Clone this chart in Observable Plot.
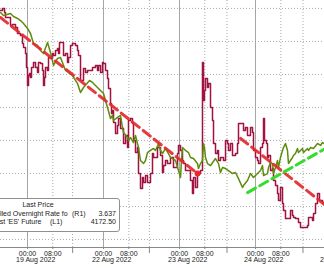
<!DOCTYPE html>
<html>
<head>
<meta charset="utf-8">
<script src="https://cdn.jsdelivr.net/npm/d3@7"></script>
<script src="https://cdn.jsdelivr.net/npm/@observablehq/plot@0.6"></script>
<style>
  html, body { margin: 0; padding: 0; background: #fff; }
  #wrap { position: relative; width: 324px; height: 268px; overflow: hidden; background: #fff;
          font-family: "Liberation Sans", Arial, sans-serif; font-size: 7px; color: #222; }
  #wrap svg { display: block; }
  .lg { position: absolute; white-space: nowrap; line-height: 8px; }
  #lgbox { position: absolute; left: -22px; top: 198px; width: 140px; height: 32px;
           border: 1px solid #8f8f8f; border-radius: 3px; background: #fff; }
</style>
</head>
<body>
<div id="wrap"></div>
<script>
// ---- x axis: trading hours since 19 Aug 2022 00:00 (weekend removed) ----
const xDomain = [-8.53, 93.79];
const hourTicks = [0, 8, 24, 32, 48, 56, 72, 80];
const hourLabels = ["00:00", "08:00", "00:00", "08:00", "00:00", "08:00", "00:00", "08:00"];
const midnightTicks = [0, 24, 48, 72];
const morningTicks = [8, 32, 56, 80];
const sessionBreaks = [14.25, 38.5, 63, 87];
const dateTicks = [2.6, 26.6, 50.6, 74.6, 98.6];
const dateLabels = ["19 Aug 2022", "22 Aug 2022", "23 Aug 2022", "24 Aug 2022", "25 Aug 2022"];

// ---- y axes: left = ES future (L1), right = rolled overnight rate (R1) ----
const esDomain = [4093.9, 4281];
const rateDomain = [3.604, 3.7911];
const esGrid = [4100, 4125, 4150, 4175, 4200, 4225, 4250, 4275];

// ---- Last 'ES' Future (L1) ----
const esHours = [-8.53,-7.58,-5.37,-4.42,-3.16,-2.21,-1.26,0,0.95,1.89,3.16,4.11,5.05,6.32,7.26,8.21,9.47,10.42,12,12.95,14.21,15.79,16.74,17.68,19.58,20.53,21.47,23.05,24,25.26,26.21,26.84,27.16,28.42,29.37,30,30.32,31.58,31.89,32.53,33.47,34.1,35.05,35.68,36.63,37.26,37.89,38.84,39.79,40.42,41.37,42,42.63,43.58,45.16,46.74,47.68,48.32,48.63,48.95,49.89,50.84,51.47,52.42,53.68,54,54.63,55.26,55.58,55.89,56.21,56.84,57.79,59.37,60.32,60.95,61.58,62.53,63.47,64.74,65.68,66.63,67.89,68.21,69.47,70.42,71.37,72.63,73.58,74.21,74.53,75.79,76.1,76.74,77.37,77.68,78.32,78.95,79.26,79.89,80.53,80.84,81.47,82.1,82.42,83.05,83.68,84,84.63,85.26,85.58,86.21,86.84,87.16,88.42,88.74,89.37,90.32,91.58,92.53,93.16,93.79];
const esValues = [4271.9,4269.6,4271.2,4268.9,4267.4,4265.8,4263.6,4259.8,4256.0,4248.4,4246.9,4243.1,4240.8,4249.2,4241.6,4231.8,4237.1,4237.8,4228.0,4226.5,4224.2,4218.1,4211.3,4215.1,4220.4,4218.9,4216.6,4212.8,4210.5,4199.9,4191.6,4193.9,4190.1,4192.4,4193.9,4184.8,4181.0,4177.2,4174.9,4177.2,4173.4,4178.7,4169.6,4159.8,4157.5,4159.8,4165.8,4167.4,4168.9,4167.4,4172.7,4167.4,4165.1,4168.9,4162.1,4159.8,4152.2,4146.9,4159.8,4169.6,4167.4,4165.8,4162.1,4161.3,4157.5,4153.7,4157.5,4159.8,4172.7,4169.6,4162.1,4157.5,4156.0,4161.3,4157.5,4150.7,4154.5,4153.7,4152.2,4149.9,4150.7,4146.1,4139.3,4140.8,4144.6,4149.9,4146.9,4149.9,4152.2,4156.0,4148.4,4149.9,4154.5,4158.3,4157.5,4149.9,4154.5,4159.8,4154.5,4162.1,4167.4,4169.6,4172.7,4167.4,4157.5,4159.8,4162.1,4163.6,4165.1,4168.9,4165.8,4167.4,4168.9,4165.8,4168.9,4167.4,4169.6,4168.9,4172.7,4171.2,4173.4,4172.5];

// ---- Rolled Overnight Rate (R1) ----
const rateHours = [-8.53,-7.89,-7.26,-6.95,-5.37,-4.74,-3.79,-3.16,-2.21,-1.58,-1.26,-0.63,-0.32,0,0.32,0.63,0.95,1.26,1.89,2.53,3.16,3.47,4.11,4.74,5.05,5.37,5.68,6.32,6.63,7.26,7.89,8.21,8.84,9.47,9.79,10.1,11.05,11.37,12,12.63,12.95,13.58,14.21,15.16,15.79,16.1,16.74,17.37,17.68,18.32,18.95,19.89,20.53,21.47,22.1,22.42,23.05,23.68,24,24.63,25.26,25.58,26.21,26.53,26.84,27.16,27.79,28.42,28.74,29.37,30.32,30.95,31.58,31.89,32.53,33.16,33.47,34.1,34.74,35.05,35.68,36.32,36.63,37.26,37.89,38.84,39.47,39.79,41.05,42,42.63,42.95,43.58,44.21,45.16,46.1,47.37,47.68,48.32,48.95,49.26,49.89,50.53,51.47,52.1,52.42,53.05,53.68,54.63,54.95,55.26,55.58,55.89,56.21,56.84,57.16,57.79,58.42,58.74,59.37,60,60.32,60.95,61.89,62.53,63.16,63.47,64.1,64.74,65.68,66.32,66.63,67.26,68.21,68.84,69.47,70.42,71.05,71.37,72,72.63,72.95,73.58,74.21,74.53,74.84,75.47,75.79,76.1,76.74,77.37,77.68,78.32,78.95,79.26,79.89,80.53,80.84,81.47,82.42,83.05,83.68,84,84.63,85.58,86.21,87.16,88.42,88.74,90,90.32,90.95,91.58,92.21,93.16,93.79];
const rateValues = [3.7835,3.7850,3.7820,3.7782,3.7722,3.7729,3.7706,3.7661,3.7646,3.7585,3.7555,3.7509,3.7403,3.7267,3.7343,3.7358,3.7328,3.7403,3.7441,3.7403,3.7365,3.7441,3.7434,3.7381,3.7267,3.7328,3.7403,3.7381,3.7479,3.7472,3.7509,3.7494,3.7532,3.7547,3.7509,3.7593,3.7593,3.7494,3.7509,3.7441,3.7479,3.7570,3.7585,3.7570,3.7532,3.7494,3.7305,3.7305,3.7396,3.7365,3.7381,3.7381,3.7403,3.7419,3.7381,3.7419,3.7365,3.7441,3.7434,3.7381,3.7320,3.7244,3.7131,3.7055,3.7078,3.6987,3.6903,3.6964,3.7017,3.6941,3.6828,3.6888,3.6797,3.7002,3.7017,3.6979,3.6850,3.6760,3.6797,3.6600,3.6487,3.6570,3.6532,3.6585,3.6532,3.6600,3.6752,3.6722,3.6797,3.6737,3.6608,3.6661,3.6699,3.6676,3.6722,3.6646,3.6752,3.6812,3.6775,3.6699,3.6676,3.6623,3.6623,3.6547,3.6449,3.6570,3.6494,3.6600,3.6623,3.6623,3.7441,3.7153,3.7229,3.7320,3.7252,3.7282,3.7100,3.7002,3.6828,3.6752,3.6775,3.6699,3.6722,3.6699,3.6850,3.6828,3.6775,3.6828,3.6737,3.6752,3.6828,3.6979,3.6979,3.6926,3.6949,3.6888,3.6949,3.6911,3.6775,3.6722,3.6699,3.6676,3.6797,3.6828,3.7017,3.6850,3.6828,3.6722,3.6737,3.6623,3.6638,3.6547,3.6509,3.6449,3.6396,3.6494,3.6373,3.6320,3.6259,3.6259,3.6320,3.6282,3.6267,3.6259,3.6229,3.6191,3.6191,3.6206,3.6267,3.6244,3.6297,3.6373,3.6449,3.6396,3.6381,3.637];

// ---- trend lines (in ES units) ----
const downTrend1Hours = [-8.53, 53.7];
const downTrend1Values = [4268.1, 4149.9];
const downTrend2Hours = [67.3, 93.79];
const downTrend2Values = [4176.5, 4126.5];
const upTrendHours = [69.5, 93.79];
const upTrendValues = [4135.5, 4168.5];

// build tables
const es = esHours.map((h, i) => ({h, v: esValues[i]}));
const rateToEs = d3.scaleLinear().domain(rateDomain).range(esDomain);
const rate = rateHours.map((h, i) => ({h, v: rateToEs(rateValues[i])}));
const dt1 = downTrend1Hours.map((h, i) => ({h, v: downTrend1Values[i]}));
const dt2 = downTrend2Hours.map((h, i) => ({h, v: downTrend2Values[i]}));
const ut = upTrendHours.map((h, i) => ({h, v: upTrendValues[i]}));

const chart = Plot.plot({
  width: 324,
  height: 268,
  marginTop: 0,
  marginBottom: 21,
  marginLeft: 0,
  marginRight: 0,
  style: {fontFamily: "'Liberation Sans', Arial, sans-serif", fontSize: "7px", color: "#222", background: "#fff", overflow: "visible"},
  x: {domain: xDomain, axis: null, label: null},
  y: {domain: esDomain, axis: null, label: null},
  marks: [
    Plot.ruleY(esGrid, {stroke: "#a9a9a9", strokeDasharray: "1,2", strokeWidth: 1}),
    Plot.ruleX(morningTicks.concat(sessionBreaks), {stroke: "#a9a9a9", strokeDasharray: "1,2", strokeWidth: 1}),
    Plot.ruleX(midnightTicks, {stroke: "#a6a6a6", strokeWidth: 1}),
    Plot.line(rate, {x: "h", y: "v", stroke: "#a0123f", strokeWidth: 1.5, curve: "step-after"}),
    Plot.line(es, {x: "h", y: "v", stroke: "#5e8c0c", strokeWidth: 1.5}),
    Plot.line(dt1, {x: "h", y: "v", stroke: "#e42a2e", strokeWidth: 3, strokeDasharray: "9,5", strokeOpacity: 0.92}),
    Plot.dot(dt1.slice(1), {x: "h", y: "v", r: 3, fill: "#f0242c"}),
    Plot.line(dt2, {x: "h", y: "v", stroke: "#e42a2e", strokeWidth: 3, strokeDasharray: "9,5", strokeOpacity: 0.92}),
    Plot.line(ut, {x: "h", y: "v", stroke: "#36dc2a", strokeWidth: 3, strokeDasharray: "9,5"}),
    Plot.ruleY([esDomain[0]], {stroke: "#888"}),
    Plot.axisX(sessionBreaks, {tickSize: 6, tickFormat: () => "", stroke: "#888", label: null}),
    Plot.axisX(hourTicks, {tickSize: 2, tickPadding: 2, tickFormat: d => hourLabels[hourTicks.indexOf(d)], stroke: "#888", fill: "#222", label: null}),
    Plot.axisX(dateTicks, {tickSize: 0, tickPadding: 10, tickFormat: d => dateLabels[dateTicks.indexOf(d)], fill: "#222", label: null})
  ]
});
const wrap = document.getElementById("wrap");
wrap.appendChild(chart);

// legend box (partly cut off at the left, as in the original)
const legendTitle = "Last Price";
const legendNames = ["Rolled Overnight Rate fo", "Last 'ES' Future"];
const legendTags = ["(R1)", "(L1)"];
const legendValues = ["3.637", "4172.50"];
const box = document.createElement("div");
box.id = "lgbox";
wrap.appendChild(box);
function span(text, style) {
  const s = document.createElement("span");
  s.className = "lg";
  s.textContent = text;
  Object.assign(s.style, style);
  wrap.appendChild(s);
}
span(legendTitle, {left: "38px", top: "201px", transform: "translateX(-50%)"});
const rowTops = [210, 218];
const tagLefts = [72, 50];
legendNames.forEach((n, i) => {
  span(n, {left: (i === 0 ? -9 : -8) + "px", top: rowTops[i] + "px"});
  span(legendTags[i], {left: tagLefts[i] + "px", top: rowTops[i] + "px"});
  span(legendValues[i], {right: (324 - 116) + "px", top: rowTops[i] + "px"});
});
</script>
</body>
</html>
